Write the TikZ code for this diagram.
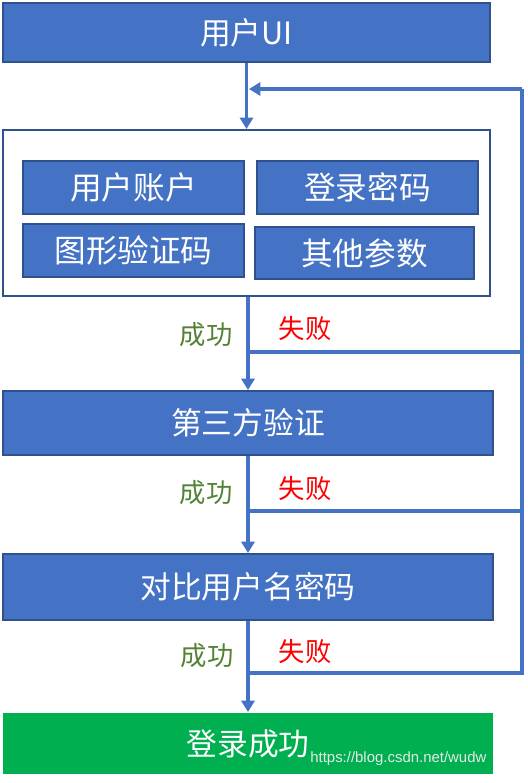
\documentclass[tikz,border=0pt]{standalone}
\usepackage{fontspec}
\newfontfamily\cjk{Noto Sans CJK SC}
\newfontfamily\wmfont{Liberation Sans}
\usepackage{xcolor}
\usetikzlibrary{arrows.meta, positioning, calc}

\definecolor{boxblue}{HTML}{4472C4}
\definecolor{boxedge}{HTML}{2F528F}
\definecolor{linkblue}{HTML}{4472C4}
\definecolor{okgreen}{HTML}{548235}
\definecolor{donegreen}{HTML}{00B050}

\begin{document}
\begin{tikzpicture}[
    x=0.02cm, y=-0.02cm,
    block/.style={rectangle, draw=boxedge, fill=boxblue, line width=1.2pt, text=white, inner sep=0pt, anchor=north west, font=\cjk\fontsize{17.5}{20}\selectfont},
    field/.style={block, minimum width=4.42cm, minimum height=1.06cm, font=\cjk\fontsize{18}{20}\selectfont},
    flow/.style={draw=linkblue, line width=1.9pt},
    arrow/.style={flow, -{Triangle[width=7.5pt, length=6.5pt]}},
    ok/.style={font=\cjk\fontsize{15}{18}\selectfont, text=okgreen},
    bad/.style={font=\cjk\fontsize{15}{18}\selectfont, text=red}
]
\useasboundingbox (0,0) rectangle (527,783);

% Main steps
\node[block, minimum width=9.74cm, minimum height=1.18cm] (ui) at (2,2) {用户UI};
\node[block, fill=white, minimum width=9.74cm, minimum height=3.32cm] (inputs) at (2,129) {};
\node[block, minimum width=9.8cm, minimum height=1.28cm] (check) at (2,390) {第三方验证};
\node[block, minimum width=9.8cm, minimum height=1.32cm] (compare) at (2,553) {对比用户名密码};
\node[block, draw=none, fill=donegreen, minimum width=9.8cm, minimum height=1.22cm] (done) at (2,712) {登录成功};

% Input fields
\node[field] (account) at (22,160) {用户账户};
\node[field] (password) at (256,160) {登录密码};
\node[field] (captcha) at (22,223) {图形验证码};
\node[field, minimum width=4.38cm, minimum height=1.04cm] (others) at (254,226) {其他参数};

% Turning points
\coordinate (back) at (522,89);
\coordinate (join) at (249,89);
\coordinate (f1) at (248,352);
\coordinate (f2) at (248,511);
\coordinate (f3) at (248,673);

% Arrows down
\draw[arrow] (ui.south) -- (inputs.north);
\draw[arrow] (check.north |- inputs.south) -- (check.north);
\draw[arrow] (compare.north |- check.south) -- (compare.north);
\draw[arrow] (done.north |- compare.south) -- (done.north);

% Failure loop
\draw[flow] (f1) -- (f1 -| back);
\draw[flow] (f2) -- (f2 -| back);
\draw[flow] (f3) -| (back);
\draw[arrow] (back) -- (join);

% Labels
\node[ok] at (206,335) {成功};
\node[bad] at (305,328) {失败};
\node[ok] at (206,493) {成功};
\node[bad] at (305,488) {失败};
\node[ok] at (207,656) {成功};
\node[bad] at (305,651) {失败};

\node[font=\wmfont\fontsize{8.5}{10}\selectfont, text=white!82!gray, anchor=west, inner sep=0pt] (mark) at (310,759) {https://blog.csdn.net/wudw};

\end{tikzpicture}
\end{document}
